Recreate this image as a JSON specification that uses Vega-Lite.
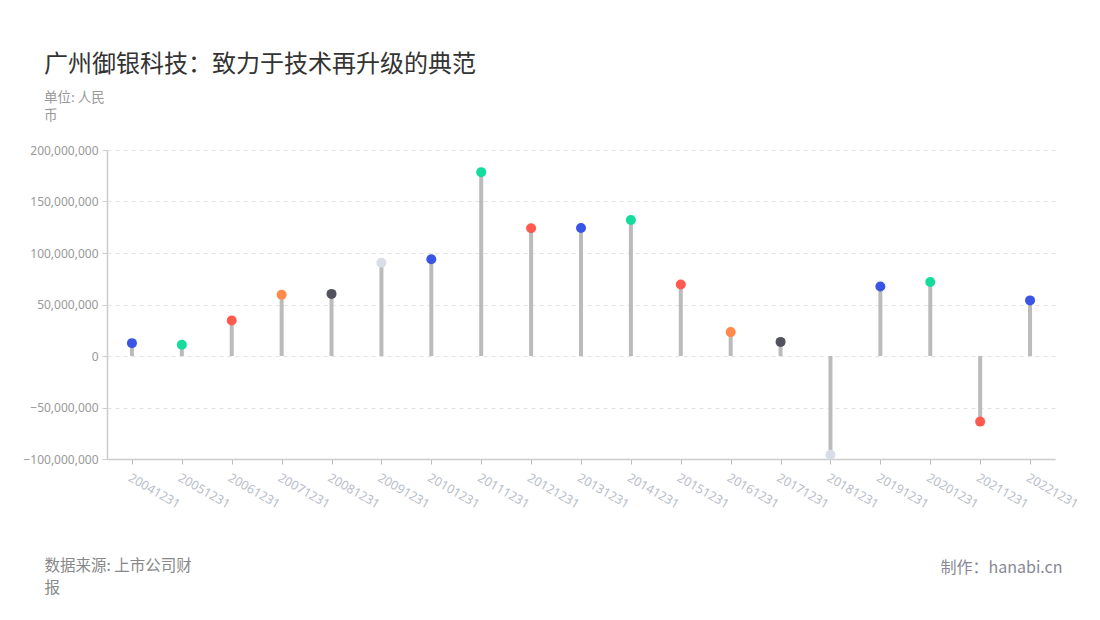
{
  "$schema": "https://vega.github.io/schema/vega-lite/v6.json",
  "width": 948,
  "height": 309,
  "autosize": {"type": "none"},
  "padding": {"left": 107, "top": 150, "right": 45, "bottom": 161},
  "background": "white",
  "title": {
    "text": "广州御银科技：致力于技术再升级的典范",
    "subtitle": ["单位: 人民", "币"],
    "anchor": "start",
    "frame": "group",
    "dx": -63,
    "offset": 22,
    "font": "Noto Sans CJK SC",
    "fontSize": 24,
    "fontWeight": "normal",
    "color": "#333333",
    "subtitleFont": "Noto Sans CJK SC",
    "subtitleFontSize": 13.5,
    "subtitleColor": "#999999",
    "subtitleLineHeight": 18,
    "subtitlePadding": 14
  },
  "config": {"view": {"stroke": null}, "font": "Noto Sans"},
  "data": {
    "values": [
      {"date": "20041231", "value": 12500000},
      {"date": "20051231", "value": 11000000},
      {"date": "20061231", "value": 34500000},
      {"date": "20071231", "value": 59500000},
      {"date": "20081231", "value": 60300000},
      {"date": "20091231", "value": 90500000},
      {"date": "20101231", "value": 94000000},
      {"date": "20111231", "value": 178500000},
      {"date": "20121231", "value": 124000000},
      {"date": "20131231", "value": 124300000},
      {"date": "20141231", "value": 132000000},
      {"date": "20151231", "value": 69500000},
      {"date": "20161231", "value": 23200000},
      {"date": "20171231", "value": 13700000},
      {"date": "20181231", "value": -95800000},
      {"date": "20191231", "value": 67500000},
      {"date": "20201231", "value": 71800000},
      {"date": "20211231", "value": -63700000},
      {"date": "20221231", "value": 54000000}
    ]
  },
  "encoding": {
    "x": {
      "field": "date",
      "type": "ordinal",
      "sort": null,
      "scale": {"type": "point", "padding": 0.5},
      "axis": {
        "title": ["数据来源: 上市公司财", "报"],
        "titleFont": "Noto Sans CJK SC",
        "titleFontSize": 15.5,
        "titleFontWeight": "normal",
        "titleColor": "#888888",
        "titleX": -63,
        "titleY": 99,
        "titleAlign": "left",
        "titleBaseline": "top",
        "titleLineHeight": 22,
        "labelAngle": 30,
        "labelAlign": "left",
        "labelBaseline": "top",
        "labelFontSize": 12.5,
        "labelColor": "#b8bdca",
        "labelPadding": 7,
        "domainColor": "#cccccc",
        "domainWidth": 1.5,
        "tickColor": "#bbbbbb",
        "tickSize": 5,
        "grid": false
      }
    },
    "y": {
      "field": "value",
      "type": "quantitative",
      "scale": {"domain": [-100000000, 200000000], "nice": false, "zero": false},
      "axis": {
        "values": [-100000000, -50000000, 0, 50000000, 100000000, 150000000, 200000000],
        "format": ",d",
        "title": "制作：hanabi.cn",
        "titleAngle": 0,
        "titleX": 955,
        "titleY": 417,
        "titleAlign": "right",
        "titleBaseline": "middle",
        "titleFont": "Noto Sans CJK SC",
        "titleFontSize": 16,
        "titleFontWeight": "normal",
        "titleColor": "#888895",
        "labelFontSize": 12,
        "labelColor": "#999999",
        "labelPadding": 4,
        "domainColor": "#cccccc",
        "domainWidth": 1.5,
        "tickColor": "#cccccc",
        "tickSize": 5,
        "grid": true,
        "gridColor": "#e3e3e3",
        "gridDash": [4, 4]
      }
    }
  },
  "layer": [
    {
      "mark": {"type": "rule", "color": "#bbbbbb", "strokeWidth": 4},
      "encoding": {"y2": {"datum": 0}}
    },
    {
      "mark": {"type": "circle", "size": 100, "opacity": 1},
      "encoding": {
        "color": {
          "field": "date",
          "type": "nominal",
          "legend": null,
          "scale": {
            "domain": ["20041231","20051231","20061231","20071231","20081231","20091231","20101231","20111231","20121231","20131231","20141231","20151231","20161231","20171231","20181231","20191231","20201231","20211231","20221231"],
            "range": ["#3a55e6","#14dc9c","#ff5a50","#ff8a4c","#52525e","#d9dde8","#3a55e6","#14dc9c","#ff5a50","#3a55e6","#14dc9c","#ff5a50","#ff8a4c","#52525e","#d9dde8","#3a55e6","#14dc9c","#ff5a50","#3a55e6"]
          }
        }
      }
    }
  ]
}
